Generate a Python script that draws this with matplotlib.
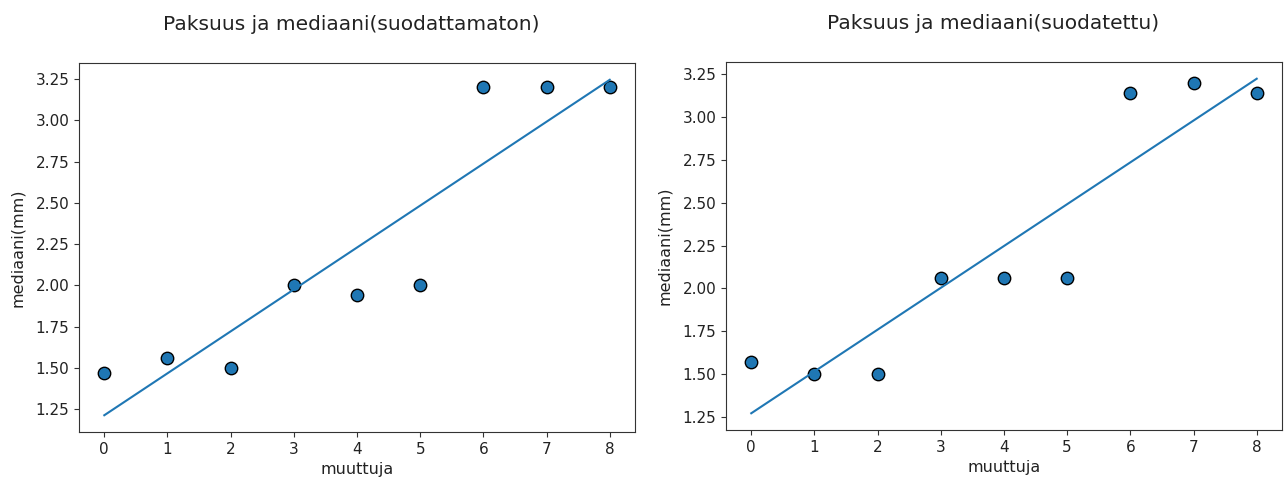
import numpy as np
import matplotlib
matplotlib.use("Agg")
import matplotlib.pyplot as plt

muuttuja = [0, 1, 2, 3, 4, 5, 6, 7, 8]
mediaani_suodattamaton = [1.47, 1.56, 1.50, 2.00, 1.94, 2.00, 3.20, 3.20, 3.20]
mediaani_suodatettu = [1.57, 1.50, 1.50, 2.06, 2.06, 2.06, 3.14, 3.20, 3.14]
otsikot = ["Paksuus ja mediaani(suodattamaton)", "Paksuus ja mediaani(suodatettu)"]
y_tikit = [1.25, 1.5, 1.75, 2.0, 2.25, 2.5, 2.75, 3.0, 3.25]

fig = plt.figure(figsize=(12.87, 4.84), dpi=100)
ax1 = fig.add_axes([0.0614, 0.1074, 0.4320, 0.7624])
ax2 = fig.add_axes([0.5641, 0.1116, 0.4320, 0.7603])

for ax, y, otsikko, tx in zip([ax1, ax2],
                              [mediaani_suodattamaton, mediaani_suodatettu],
                              otsikot, [0.490, 0.481]):
    x = np.array(muuttuja, dtype=float)
    y = np.array(y)
    ax.scatter(x, y, s=80, color="#1f77b4", edgecolors="black", linewidths=1.0)
    # sovitettu regressiosuora
    k, b = np.polyfit(x, y, 1)
    ax.plot(x, k * x + b, color="#1f77b4", linewidth=1.5)
    ax.set_title(otsikko, fontsize=14.5, pad=24, x=tx, color="#222222")
    ax.set_xlabel("muuttuja", fontsize=11.5, color="#222222")
    ax.set_ylabel("mediaani(mm)", fontsize=11.5, color="#222222", labelpad=7.5)
    ax.set_yticks(y_tikit)
    ax.tick_params(labelsize=11, labelcolor="#222222", color="#333333")
    for s in ax.spines.values():
        s.set_color("#333333")

fig.savefig("out.png", dpi=100)
